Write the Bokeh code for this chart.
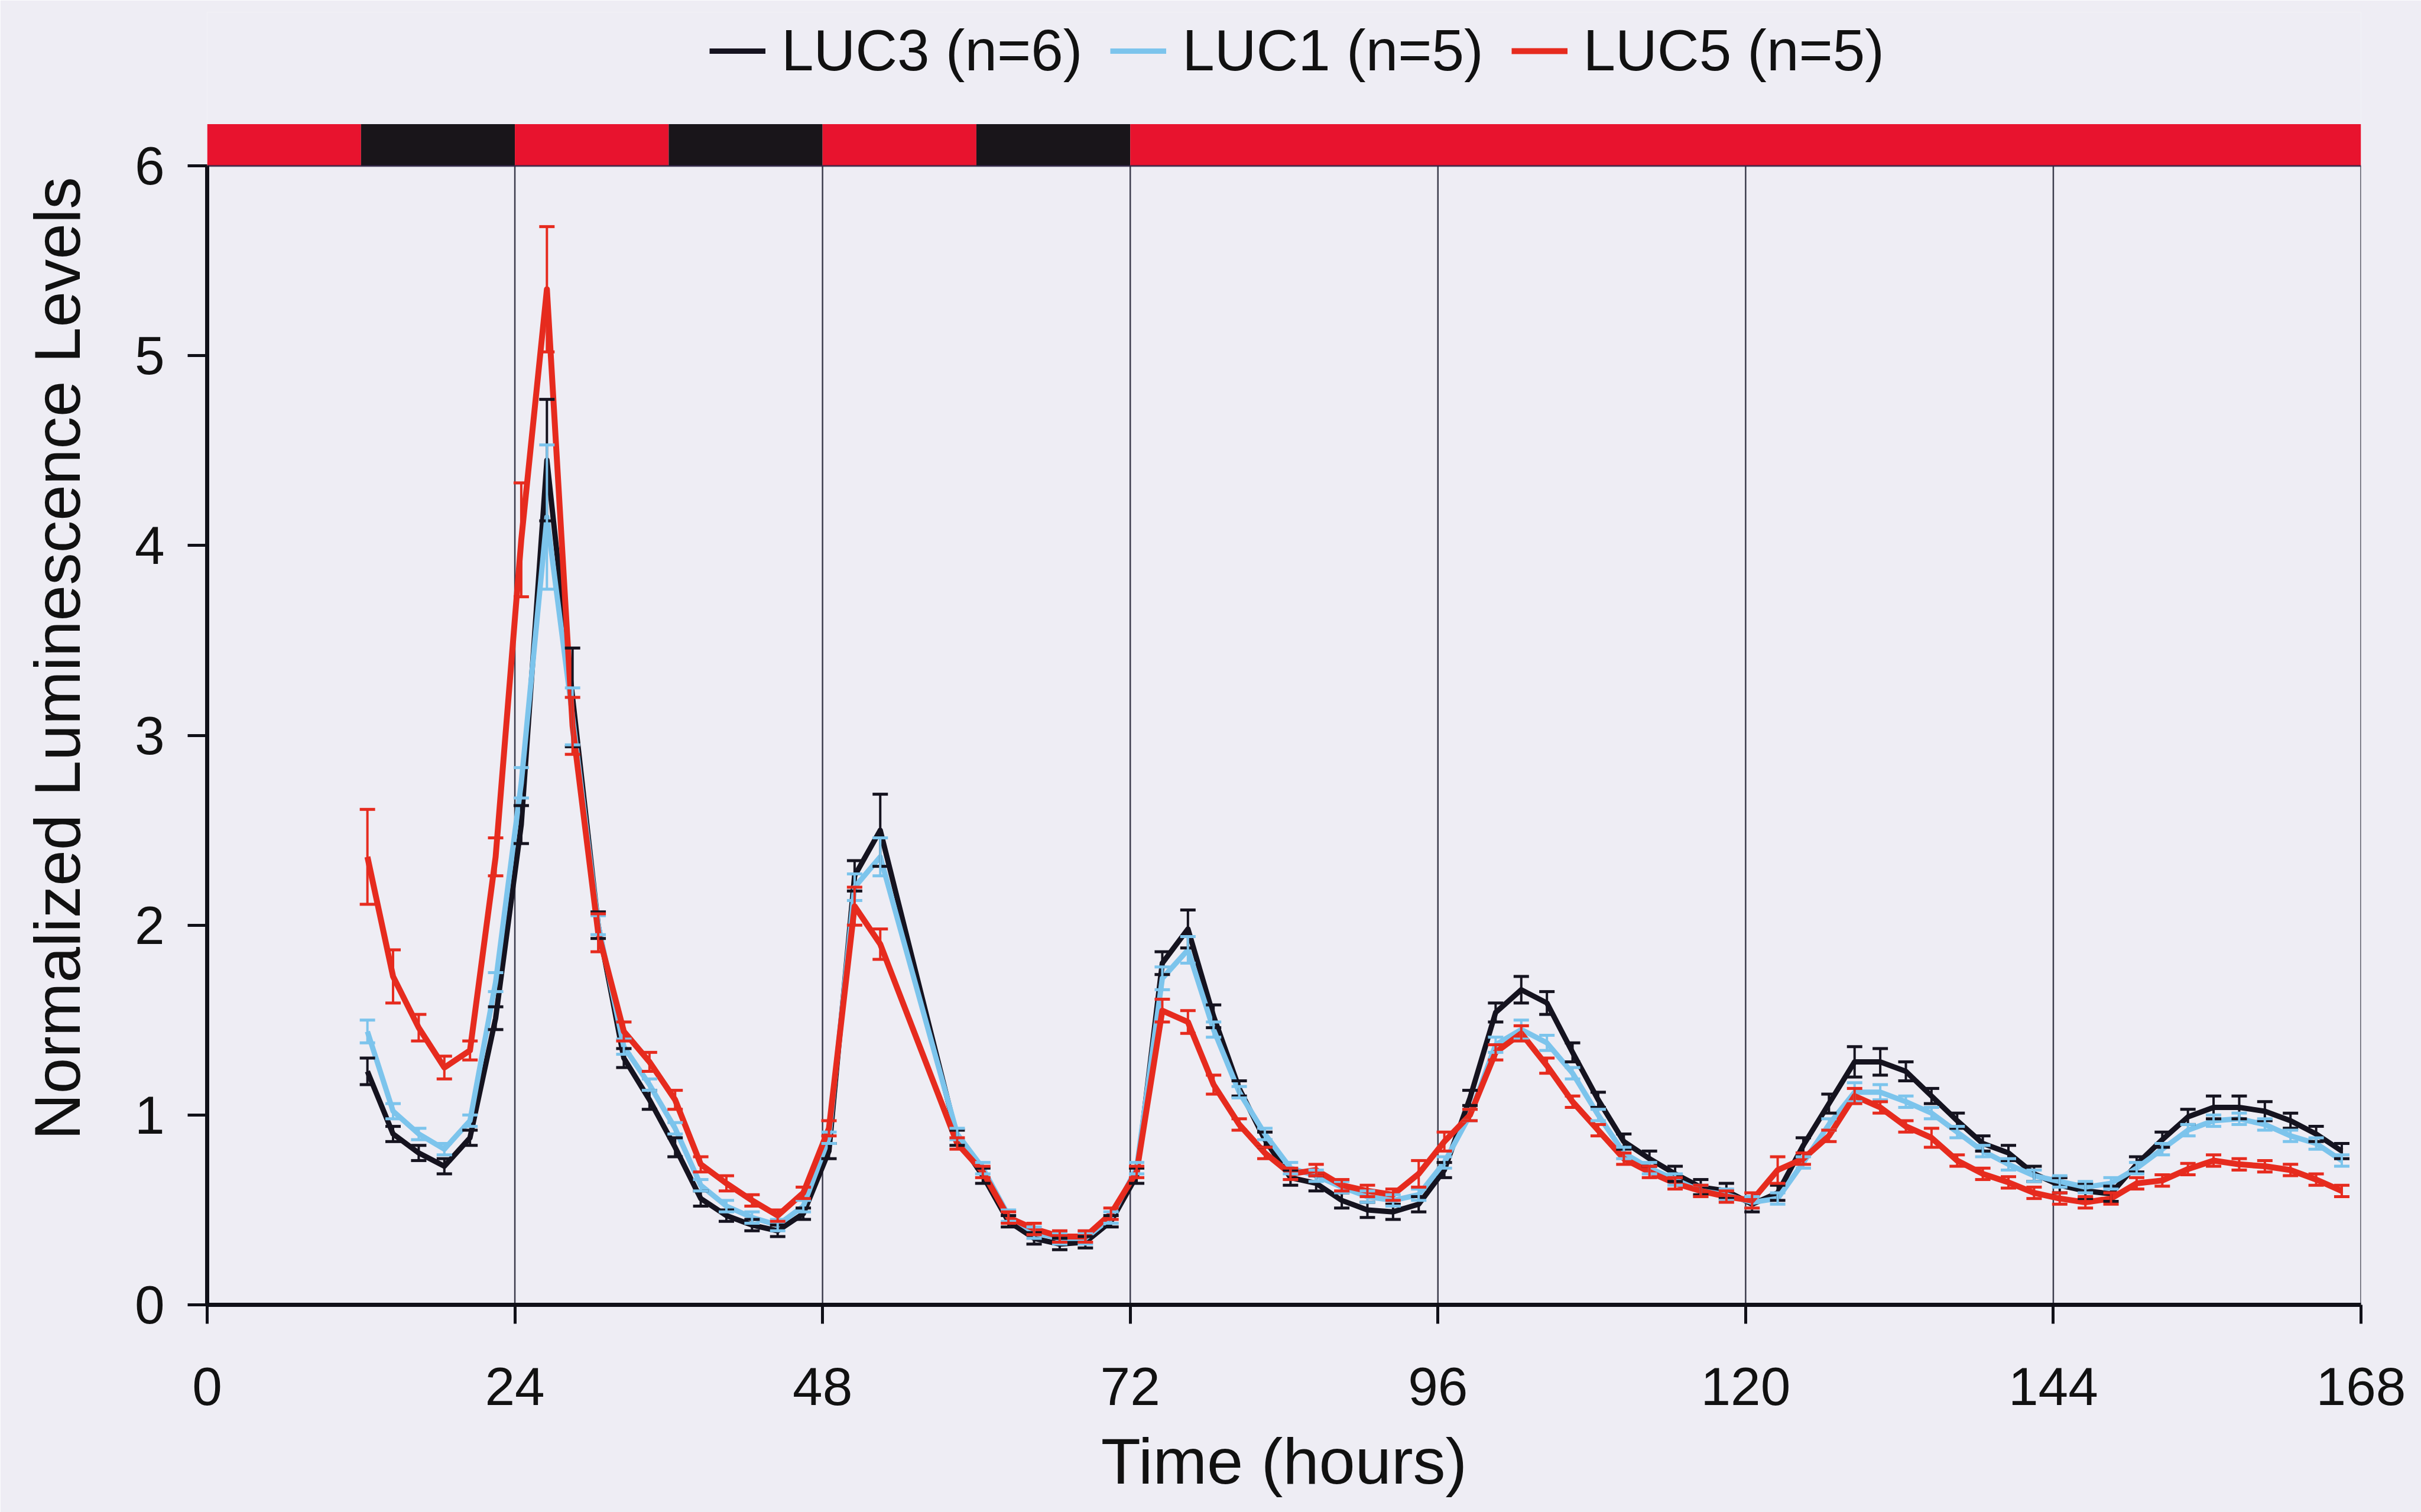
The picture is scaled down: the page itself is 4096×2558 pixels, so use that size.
from bokeh.plotting import figure
from bokeh.models import (Range1d, FixedTicker, ColumnDataSource, Whisker, TeeHead,
                          Legend, LegendItem)
from bokeh.embed import file_html
from bokeh.resources import INLINE

# ---------------- data ----------------
time_h = [12.5, 14.5, 16.5, 18.5, 20.5, 22.5, 24.5, 26.5, 28.5, 30.5, 32.5, 34.5, 36.5,
          38.5, 40.5, 42.5, 44.5, 46.5, 48.5, 50.5, 52.5,
          58.5, 60.5, 62.5, 64.5, 66.5, 68.5, 70.5, 72.5, 74.5, 76.5, 78.5, 80.5, 82.5,
          84.5, 86.5, 88.5, 90.5, 92.5, 94.5, 96.5, 98.5, 100.5, 102.5, 104.5, 106.5,
          108.5, 110.5, 112.5, 114.5, 116.5, 118.5, 120.5, 122.5, 124.5, 126.5, 128.5,
          130.5, 132.5, 134.5, 136.5, 138.5, 140.5, 142.5, 144.5, 146.5, 148.5, 150.5,
          152.5, 154.5, 156.5, 158.5, 160.5, 162.5, 164.5, 166.5]

luc3 = [1.23, 0.90, 0.80, 0.73, 0.88, 1.51, 2.53, 4.45, 3.20, 2.00, 1.30, 1.08, 0.83,
        0.56, 0.47, 0.42, 0.39, 0.48, 0.81, 2.26, 2.50,
        0.88, 0.68, 0.44, 0.35, 0.32, 0.33, 0.44, 0.68, 1.80, 1.98, 1.52, 1.14, 0.87,
        0.67, 0.64, 0.55, 0.50, 0.49, 0.53, 0.71, 1.09, 1.54, 1.66, 1.59, 1.33,
        1.08, 0.86, 0.77, 0.69, 0.62, 0.60, 0.53, 0.59, 0.84, 1.06, 1.28,
        1.28, 1.23, 1.10, 0.97, 0.85, 0.80, 0.69, 0.63, 0.60, 0.585, 0.74,
        0.87, 0.99, 1.04, 1.04, 1.02, 0.97, 0.90, 0.81]
luc3_err = [0.07, 0.04, 0.04, 0.04, 0.04, 0.06, 0.10, 0.32, 0.26, 0.07, 0.05, 0.05, 0.05,
            0.04, 0.03, 0.03, 0.03, 0.03, 0.04, 0.08, 0.19,
            0.04, 0.04, 0.03, 0.03, 0.03, 0.03, 0.03, 0.04, 0.06, 0.10, 0.06, 0.04, 0.04,
            0.04, 0.04, 0.04, 0.04, 0.04, 0.04, 0.04, 0.04, 0.05, 0.07, 0.06, 0.05,
            0.04, 0.04, 0.04, 0.04, 0.04, 0.04, 0.04, 0.04, 0.04, 0.05, 0.08,
            0.07, 0.05, 0.04, 0.04, 0.04, 0.04, 0.04, 0.04, 0.04, 0.04, 0.04,
            0.04, 0.04, 0.06, 0.06, 0.05, 0.04, 0.04, 0.04]

luc1 = [1.44, 1.02, 0.90, 0.82, 0.97, 1.70, 2.75, 4.15, 3.10, 2.00, 1.36, 1.16, 0.93,
        0.63, 0.52, 0.46, 0.42, 0.52, 0.88, 2.20, 2.36,
        0.90, 0.72, 0.47, 0.38, 0.35, 0.35, 0.46, 0.72, 1.72, 1.87, 1.45, 1.12, 0.90,
        0.72, 0.68, 0.62, 0.57, 0.55, 0.58, 0.75, 1.00, 1.37, 1.45, 1.38, 1.22,
        1.00, 0.80, 0.72, 0.66, 0.60, 0.58, 0.54, 0.56, 0.75, 0.95, 1.12,
        1.12, 1.07, 1.01, 0.91, 0.81, 0.74, 0.68, 0.65, 0.62, 0.64, 0.72,
        0.82, 0.92, 0.97, 0.98, 0.95, 0.89, 0.85, 0.76]
luc1_err = [0.06, 0.04, 0.03, 0.03, 0.03, 0.05, 0.08, 0.38, 0.15, 0.05, 0.04, 0.03, 0.03,
            0.03, 0.03, 0.03, 0.03, 0.03, 0.03, 0.07, 0.10,
            0.03, 0.03, 0.03, 0.03, 0.03, 0.03, 0.03, 0.03, 0.06, 0.07, 0.04, 0.03, 0.03,
            0.03, 0.03, 0.03, 0.03, 0.03, 0.03, 0.03, 0.03, 0.04, 0.05, 0.04, 0.03,
            0.03, 0.03, 0.03, 0.03, 0.03, 0.03, 0.03, 0.03, 0.03, 0.03, 0.05,
            0.04, 0.03, 0.03, 0.03, 0.03, 0.03, 0.03, 0.03, 0.03, 0.03, 0.03,
            0.03, 0.03, 0.03, 0.03, 0.03, 0.03, 0.03, 0.03]

luc5 = [2.36, 1.73, 1.46, 1.25, 1.34, 2.36, 4.03, 5.35, 3.05, 1.96, 1.44, 1.28, 1.08,
        0.74, 0.64, 0.55, 0.47, 0.59, 0.93, 2.10, 1.90,
        0.85, 0.70, 0.46, 0.40, 0.36, 0.36, 0.48, 0.70, 1.55, 1.49, 1.16, 0.95, 0.80,
        0.69, 0.71, 0.63, 0.60, 0.58, 0.69, 0.86, 1.00, 1.33, 1.43, 1.26, 1.07,
        0.92, 0.77, 0.70, 0.64, 0.60, 0.57, 0.55, 0.71, 0.77, 0.89, 1.10,
        1.04, 0.94, 0.88, 0.76, 0.69, 0.645, 0.59, 0.56, 0.54, 0.56, 0.64,
        0.655, 0.715, 0.76, 0.74, 0.73, 0.71, 0.66, 0.60]
luc5_err = [0.25, 0.14, 0.07, 0.06, 0.05, 0.10, 0.30, 0.33, 0.15, 0.10, 0.05, 0.05, 0.05,
            0.04, 0.04, 0.03, 0.03, 0.03, 0.04, 0.10, 0.08,
            0.03, 0.03, 0.03, 0.03, 0.03, 0.03, 0.03, 0.03, 0.06, 0.06, 0.05, 0.03, 0.03,
            0.03, 0.03, 0.03, 0.03, 0.03, 0.07, 0.05, 0.03, 0.04, 0.04, 0.04, 0.03,
            0.03, 0.03, 0.03, 0.03, 0.03, 0.03, 0.04, 0.07, 0.03, 0.03, 0.04,
            0.03, 0.03, 0.05, 0.03, 0.03, 0.03, 0.03, 0.03, 0.03, 0.03, 0.03,
            0.03, 0.03, 0.03, 0.03, 0.03, 0.03, 0.03, 0.03]

series_names = ["LUC3 (n=6)", "LUC1 (n=5)", "LUC5 (n=5)"]
series_colors = ["#15131f", "#7cc4ec", "#e62b1e"]

# light/dark regime bar (hours)
ld_start = [0, 12, 24, 36, 48, 60, 72]
ld_end = [12, 24, 36, 48, 60, 72, 168]
ld_color = ["#e8132e", "#19151a", "#e8132e", "#19151a", "#e8132e", "#19151a", "#e8132e"]

x_ticks = [0, 24, 48, 72, 96, 120, 144, 168]
y_ticks = [0, 1, 2, 3, 4, 5, 6]

# ---------------- figure ----------------
BG = "#eeedf4"
FONT = "Liberation Sans"
Y_TOP = 6.81
BAR_H = 0.22

p = figure(width=4096, height=2558, output_backend="svg", toolbar_location=None,
           x_range=Range1d(0, 168), y_range=Range1d(0, Y_TOP), title=None,
           min_border_left=350, min_border_right=102, min_border_top=20,
           min_border_bottom=351, background_fill_color=BG, border_fill_color=BG,
           outline_line_color=None)
p.xgrid.visible = False
p.ygrid.visible = False

# vertical grid lines at the x ticks (only within 0..6)
p.segment(x0=x_ticks[1:], y0=[0] * (len(x_ticks) - 1), x1=x_ticks[1:],
          y1=[y_ticks[-1]] * (len(x_ticks) - 1), line_color="#3c3c4c", line_width=2.5)

# light/dark bar
p.quad(left=ld_start, right=ld_end, bottom=[6] * len(ld_start),
       top=[6 + BAR_H] * len(ld_start), fill_color=ld_color, line_color=None)
p.segment(x0=[0], y0=[6], x1=[168], y1=[6], line_color="#2a2142", line_width=3,
          line_alpha=0.8)

items = []
for vals, errs, name, col, lw in [(luc3, luc3_err, series_names[0], series_colors[0], 9),
                                  (luc1, luc1_err, series_names[1], series_colors[1], 9),
                                  (luc5, luc5_err, series_names[2], series_colors[2], 10)]:
    src = ColumnDataSource(dict(t=time_h, v=vals,
                                up=[a + b for a, b in zip(vals, errs)],
                                lo=[a - b for a, b in zip(vals, errs)]))
    w = Whisker(base="t", upper="up", lower="lo", source=src, level="glyph",
                line_color=col, line_width=4,
                upper_head=TeeHead(size=26, line_color=col, line_width=5),
                lower_head=TeeHead(size=26, line_color=col, line_width=5))
    p.add_layout(w)
    r = p.line("t", "v", source=src, line_color=col, line_width=lw, line_join="round")
    items.append(LegendItem(label=name, renderers=[r]))

legend = Legend(items=items, orientation="horizontal", location=(850, 2065),
                glyph_width=95, glyph_height=40, label_standoff=27, spacing=47,
                padding=0, margin=0, border_line_color=None, background_fill_alpha=0,
                label_text_font=FONT, label_text_font_size="98px",
                label_text_color="#111111")
p.add_layout(legend)

# axes
for ax in (p.xaxis[0], p.yaxis[0]):
    ax.major_label_text_font = FONT
    ax.major_label_text_color = "#111111"
    ax.axis_label_text_font = FONT
    ax.axis_label_text_font_style = "normal"
    ax.axis_label_text_color = "#111111"
    ax.axis_line_color = "#101018"
    ax.axis_line_width = 7
    ax.major_tick_line_color = "#101018"
    ax.major_tick_line_width = 5
    ax.major_tick_in = 0
    ax.minor_tick_line_color = None

p.xaxis.ticker = FixedTicker(ticks=x_ticks)
p.xaxis.axis_label = "Time (hours)"
p.xaxis.major_label_text_font_size = "91px"
p.xaxis.axis_label_text_font_size = "110px"
p.xaxis.major_tick_out = 32
p.xaxis.major_label_standoff = 74
p.xaxis.axis_label_standoff = 30

p.yaxis.ticker = FixedTicker(ticks=y_ticks)
p.yaxis.bounds = (0, 6)
p.yaxis.axis_label = "Normalized Luminescence Levels"
p.yaxis.major_label_text_font_size = "91px"
p.yaxis.axis_label_text_font_size = "109px"
p.yaxis.major_tick_out = 33
p.yaxis.major_label_standoff = 39
p.yaxis.axis_label_standoff = 67

open("out.html", "w").write(file_html(p, INLINE))
